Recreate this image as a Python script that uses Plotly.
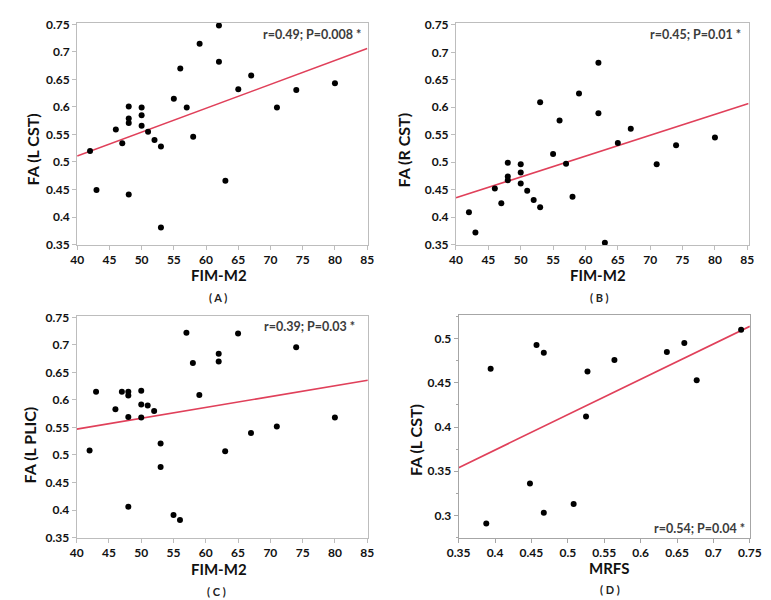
import plotly.graph_objects as go

W, H = 771, 600

# ---------------- data ----------------
# Panel A: FIM-M2 vs FA (L CST)
a_x = [42, 43, 46, 47, 48, 48, 48, 48, 50, 50, 50, 51, 52, 53, 53, 55, 56, 57, 58, 59, 62, 62, 63, 65, 67, 71, 74, 80]
a_y = [0.520, 0.449, 0.559, 0.534, 0.601, 0.579, 0.571, 0.441, 0.599, 0.585, 0.566, 0.555, 0.540, 0.528, 0.381,
       0.615, 0.670, 0.599, 0.546, 0.715, 0.748, 0.682, 0.466, 0.632, 0.657, 0.599, 0.631, 0.643]
a_fit_x = [40, 85]
a_fit_y = [0.511, 0.706]

# Panel B: FIM-M2 vs FA (R CST)
b_x = [42, 43, 46, 47, 48, 48, 48, 50, 50, 50, 51, 52, 53, 53, 55, 56, 57, 58, 59, 62, 62, 63, 65, 67, 71, 74, 80]
b_y = [0.409, 0.372, 0.452, 0.425, 0.499, 0.474, 0.467, 0.496, 0.481, 0.461, 0.448, 0.431, 0.418, 0.609,
       0.515, 0.576, 0.497, 0.437, 0.625, 0.681, 0.589, 0.353, 0.535, 0.561, 0.496, 0.531, 0.545]
b_fit_x = [40, 85.2]
b_fit_y = [0.435, 0.607]

# Panel C: FIM-M2 vs FA (L PLIC)
c_x = [42, 43, 46, 47, 48, 48, 48, 48, 50, 50, 50, 51, 52, 53, 53, 55, 56, 57, 58, 59, 62, 62, 63, 65, 67, 71, 74, 80]
c_y = [0.508, 0.615, 0.583, 0.615, 0.615, 0.608, 0.569, 0.406, 0.617, 0.592, 0.568, 0.590, 0.580, 0.521, 0.478,
       0.391, 0.382, 0.722, 0.667, 0.609, 0.684, 0.670, 0.507, 0.721, 0.540, 0.552, 0.696, 0.568]
c_fit_x = [40, 85.1]
c_fit_y = [0.547, 0.636]

# Panel D: MRFS vs FA (L CST)
d_x = [0.388, 0.394, 0.448, 0.457, 0.467, 0.467, 0.508, 0.525, 0.527, 0.564, 0.636, 0.660, 0.677, 0.738]
d_y = [0.291, 0.466, 0.336, 0.493, 0.303, 0.484, 0.313, 0.412, 0.463, 0.476, 0.485, 0.495, 0.453, 0.510]
d_fit_x = [0.35, 0.75]
d_fit_y = [0.354, 0.514]

fim_ticks = [40, 45, 50, 55, 60, 65, 70, 75, 80, 85]
fim_labels = ["40", "45", "50", "55", "60", "65", "70", "75", "80", "85"]
fa_ticks = [0.35, 0.4, 0.45, 0.5, 0.55, 0.6, 0.65, 0.7, 0.75]
fa_labels = ["0.35", "0.4", "0.45", "0.5", "0.55", "0.6", "0.65", "0.7", "0.75"]
mrfs_ticks = [0.35, 0.4, 0.45, 0.5, 0.55, 0.6, 0.65, 0.7, 0.75]
mrfs_labels = ["0.35", "0.4", "0.45", "0.5", "0.55", "0.6", "0.65", "0.7", "0.75"]
d_fa_ticks = [0.3, 0.35, 0.4, 0.45, 0.5]
d_fa_labels = ["0.3", "0.35", "0.4", "0.45", "0.5"]
d_fa_minor = [0.275, 0.325, 0.375, 0.425, 0.475, 0.525]

stats = ["r=0.49; P=0.008 *", "r=0.45; P=0.01 *", "r=0.39; P=0.03 *", "r=0.54; P=0.04 *"]
y_titles = ["FA (L CST)", "FA (R CST)", "FA (L PLIC)", "FA (L CST)"]
x_titles = ["FIM-M2", "FIM-M2", "FIM-M2", "MRFS"]
panel_labels = ["( A )", "( B )", "( C )", "( D )"]

# ---------------- layout (pixel boxes) ----------------
def px(x):
    return x / W

def py(y):
    return 1 - y / H

boxes = [  # left, right, top, bottom in pixels
    (59, 359, 8.5, 235),
    (450, 752, 8.5, 235),
    (58.5, 359, 308, 535),
    (452.7, 753.3, 307, 535),
]

FONT = "Lato"
dot_color = "#000000"
line_color = "#e0405a"

fig = go.Figure()
panels = [
    (a_x, a_y, a_fit_x, a_fit_y),
    (b_x, b_y, b_fit_x, b_fit_y),
    (c_x, c_y, c_fit_x, c_fit_y),
    (d_x, d_y, d_fit_x, d_fit_y),
]
for i, (xs, ys, fx, fy) in enumerate(panels):
    ax = "" if i == 0 else str(i + 1)
    fig.add_trace(go.Scatter(x=fx, y=fy, mode="lines", line=dict(color=line_color, width=1.6),
                             xaxis="x" + ax, yaxis="y" + ax, showlegend=False, hoverinfo="skip"))
    fig.add_trace(go.Scatter(x=xs, y=ys, mode="markers", marker=dict(color=dot_color, size=6),
                             xaxis="x" + ax, yaxis="y" + ax, showlegend=False, cliponaxis=False))

tickfont = dict(family=FONT, size=12, color="#111111", weight="bold")
layout = dict(
    width=W, height=H, margin=dict(l=0, r=0, t=0, b=0),
    paper_bgcolor="white", plot_bgcolor="white", showlegend=False,
)

ranges = [
    ([40, 85.1], [0.35, 0.752], fim_ticks, fim_labels, fa_ticks, fa_labels),
    ([40, 85.2], [0.35, 0.753], fim_ticks, fim_labels, fa_ticks, fa_labels),
    ([40, 85.1], [0.35, 0.753], fim_ticks, fim_labels, fa_ticks, fa_labels),
    ([0.35, 0.75], [0.275, 0.527], mrfs_ticks, mrfs_labels, d_fa_ticks, d_fa_labels),
]
frame_colors = ["#bdbdbd", "#bdbdbd", "#bdbdbd", "#a6a6a6"]
for i, (l, r, t, b) in enumerate(boxes):
    k = "" if i == 0 else str(i + 1)
    xr, yr, xtv, xtt, ytv, ytt = ranges[i]
    fc = frame_colors[i]
    layout["xaxis" + k] = dict(
        domain=[px(l), px(r)], range=xr, anchor="y" + k, tickvals=xtv, ticktext=xtt,
        ticks="outside", ticklen=4, tickcolor=fc, linecolor=fc, linewidth=1, mirror=True,
        showline=True, showgrid=False, zeroline=False, tickfont=tickfont,
    )
    ydict = dict(
        domain=[py(b), py(t)], range=yr, anchor="x" + k, tickvals=ytv, ticktext=ytt,
        ticks="outside", ticklen=4, tickcolor=fc, linecolor=fc, linewidth=1, mirror=True,
        showline=True, showgrid=False, zeroline=False, tickfont=tickfont,
    )
    if i == 3:
        ydict["minor"] = dict(ticks="outside", ticklen=2, tickcolor=fc, tickvals=d_fa_minor)
    layout["yaxis" + k] = ydict

fig.update_layout(**layout)

# annotations (pixel positions)
stat_pos = [(354, 20), (746, 20), (348, 319), (750, 526)]
ytitle_pos = [(13, 138), (396, 138), (10, 440), (409, 435)]
xtitle_pos = [(205, 266), (597, 266), (205, 567), (608, 566)]
label_pos = [(204, 289), (598, 289), (203, 590), (609, 588)]

for i in range(4):
    sx, sy = stat_pos[i]
    fig.add_annotation(x=px(sx), y=py(sy), xref="paper", yref="paper", text=stats[i], showarrow=False,
                       xanchor="right", yanchor="middle",
                       font=dict(family=FONT, size=12.5, color="#3c3c3c", weight="bold"))
    tx, ty = ytitle_pos[i]
    fig.add_annotation(x=px(tx), y=py(ty), xref="paper", yref="paper", text=y_titles[i], showarrow=False,
                       textangle=-90, xanchor="center", yanchor="middle",
                       font=dict(family=FONT, size=16, color="#111111", weight="bold"))
    tx, ty = xtitle_pos[i]
    fig.add_annotation(x=px(tx), y=py(ty), xref="paper", yref="paper", text=x_titles[i], showarrow=False,
                       xanchor="center", yanchor="middle",
                       font=dict(family=FONT, size=15, color="#111111", weight="bold"))
    tx, ty = label_pos[i]
    fig.add_annotation(x=px(tx), y=py(ty), xref="paper", yref="paper", text=panel_labels[i], showarrow=False,
                       xanchor="center", yanchor="middle",
                       font=dict(family=FONT, size=11, color="#222222", weight="bold"))

fig.write_html("out.html")
